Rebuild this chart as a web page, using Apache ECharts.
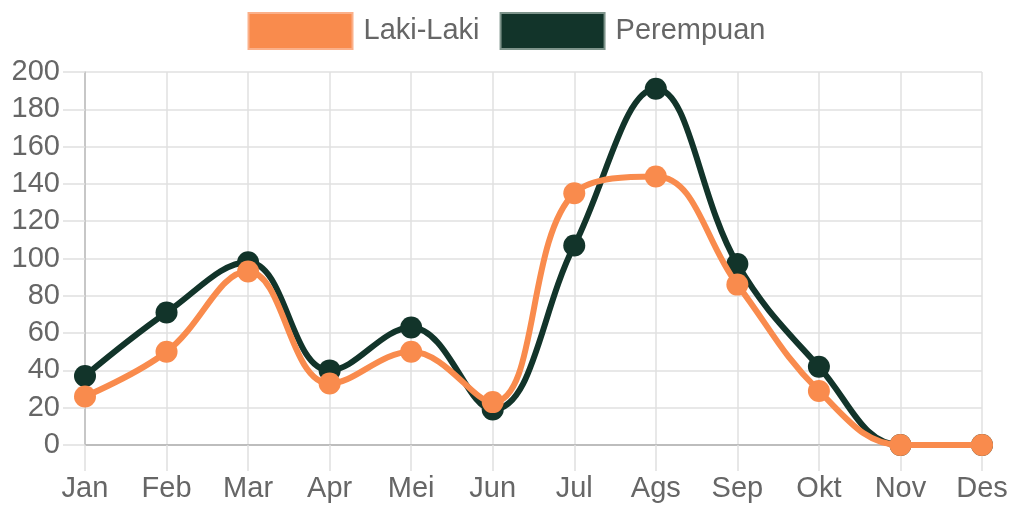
<!DOCTYPE html>
<html><head><meta charset="utf-8">
<script src="https://cdn.jsdelivr.net/npm/echarts@6/dist/echarts.min.js"></script>
<style>html,body{margin:0;padding:0;background:#fff}#c{width:1013px;height:508px}</style>
</head><body><div id="c"></div>
<script>
const categories = ['Jan','Feb','Mar','Apr','Mei','Jun','Jul','Ags','Sep','Okt','Nov','Des'];
const lakiLaki = [26, 50, 93, 33, 50, 23, 135, 144, 86, 29, 0, 0];
const perempuan = [37, 71, 98, 40, 63, 19, 107, 191, 97, 42, 0, 0];
const yTicks = [0, 20, 40, 60, 80, 100, 120, 140, 160, 180, 200];

const orange = '#F98B4D';
const dark = '#12342A';
const font = '"Liberation Sans", Arial, sans-serif';

const chart = echarts.init(document.getElementById('c'));
chart.setOption({
  animation: false,
  textStyle: { fontFamily: font },
  legend: {
    top: 7, left: 'center',
    itemWidth: 104, itemHeight: 36, itemGap: 20,
    textStyle: { color: '#666', fontSize: 29, fontFamily: font, padding: [0, 0, 0, 6] },
    icon: 'rect',
    data: [
      { name: 'Laki-Laki', itemStyle: { color: orange, borderColor: '#fbb08a', borderWidth: 2 } },
      { name: 'Perempuan', itemStyle: { color: dark, borderColor: '#7e948b', borderWidth: 2 } }
    ]
  },
  grid: { left: 85, right: 31, top: 72, bottom: 63, containLabel: false },
  xAxis: {
    type: 'category', data: categories, boundaryGap: false,
    axisLine: { show: true, lineStyle: { color: '#bdbdbd', width: 2 } },
    axisTick: { show: true, length: 26, lineStyle: { color: '#e0e0e0', width: 1.5 } },
    axisLabel: { color: '#666', fontSize: 29, fontFamily: font, margin: 29 },
    splitLine: { show: true, lineStyle: { color: '#e0e0e0', width: 1.5 } }
  },
  yAxis: {
    type: 'value', min: 0, max: 200, interval: 20,
    axisLine: { show: true, lineStyle: { color: '#bdbdbd', width: 1.5 } },
    axisTick: { show: true, length: 22, lineStyle: { color: '#e0e0e0', width: 1.5 } },
    axisLabel: { color: '#666', fontSize: 29, fontFamily: font, margin: 25,
      formatter: v => yTicks.includes(v) ? String(v) : '' },
    splitLine: { show: true, lineStyle: { color: '#e0e0e0', width: 1.5 } }
  },
  series: [
    { name: 'Perempuan', type: 'line', data: perempuan, smooth: 0.4, z: 2,
      symbol: 'circle', symbolSize: 22,
      lineStyle: { color: dark, width: 6 }, itemStyle: { color: dark } },
    { name: 'Laki-Laki', type: 'line', data: lakiLaki, smooth: 0.4, z: 3,
      symbol: 'circle', symbolSize: 22,
      lineStyle: { color: orange, width: 6 }, itemStyle: { color: orange } }
  ]
});
</script></body></html>
